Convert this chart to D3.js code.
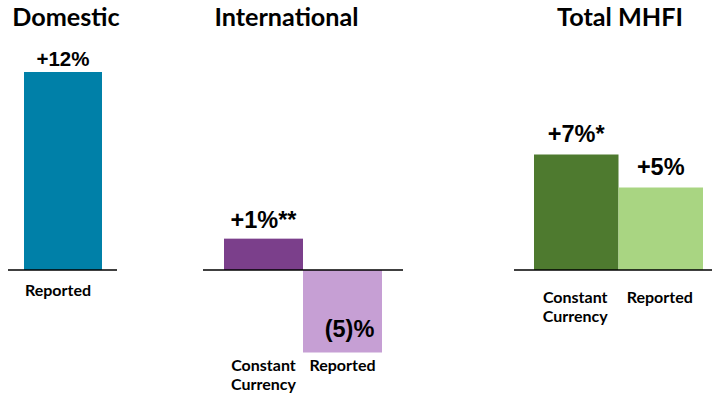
<!DOCTYPE html>
<html>
<head>
<meta charset="utf-8">
<script src="https://cdn.jsdelivr.net/npm/d3@7"></script>
<style>
  html, body { margin: 0; padding: 0; background: #fff; }
  svg { display: block; }
  .title { font-family: Lato, "Open Sans", sans-serif; font-weight: 700; font-size: 25.2px; fill: #000; }
  .cat { font-family: Lato, "Open Sans", sans-serif; font-weight: 700; font-size: 16px; fill: #000; }
  .val { font-family: "Liberation Sans", Arial, sans-serif; font-weight: 700; font-size: 23.5px; fill: #000; }
  .val.small { font-size: 20.5px; }
</style>
</head>
<body>
<svg id="chart" width="712" height="395"></svg>
<script>
const panelTitles = ["Domestic", "International", "Total MHFI"];

const domesticCategories = ["Reported"];
const domesticValues = [12];
const domesticLabels = ["+12%"];

const intlCategories = ["Constant Currency", "Reported"];
const intlValues = [1.9, -5];
const intlLabels = ["+1%**", "(5)%"];

const totalCategories = ["Constant Currency", "Reported"];
const totalValues = [7, 5];
const totalLabels = ["+7%*", "+5%"];

const domesticColors = ["#0080a8"];
const intlColors = ["#7b3f8b", "#c69fd4"];
const totalColors = ["#4e7a2f", "#a9d582"];

const panels = [
  { title: panelTitles[0], cats: domesticCategories, values: domesticValues, labels: domesticLabels, colors: domesticColors,
    bars: [24, 102], axis: [8, 117], titleX: 66, catY: 296, catShift: -5, valGap: 6, small: true },
  { title: panelTitles[1], cats: intlCategories, values: intlValues, labels: intlLabels, colors: intlColors,
    bars: [224, 382], axis: [203, 403], titleX: 286.5, catY: 371, catShift: 0, valGap: 11 },
  { title: panelTitles[2], cats: totalCategories, values: totalValues, labels: totalLabels, colors: totalColors,
    bars: [534, 703], axis: [514, 712], titleX: 620, catY: 303, catShift: -1, valGap: 13 },
];
const lineStep = 19;

const svg = d3.select("#chart");
const y = d3.scaleLinear().domain([-5, 12]).range([352.5, 72]);

for (const p of panels) {
  const g = svg.append("g");
  const x = d3.scaleBand().domain(p.cats).range(p.bars).paddingInner(0).paddingOuter(0);
  const mid = (c) => x(c) + x.bandwidth() / 2;
  const rows = p.cats.map((c, i) => ({ cat: c, value: p.values[i], label: p.labels[i], color: p.colors[i] }));

  g.append("text").attr("class", "title")
    .attr("x", p.titleX).attr("y", 26).attr("text-anchor", "middle").text(p.title);

  g.selectAll("rect").data(rows).join("rect")
    .attr("x", (d) => x(d.cat))
    .attr("width", x.bandwidth())
    .attr("y", (d) => y(Math.max(0, d.value)))
    .attr("height", (d) => Math.abs(y(d.value) - y(0)))
    .attr("fill", (d) => d.color);

  g.append("line")
    .attr("x1", p.axis[0]).attr("x2", p.axis[1])
    .attr("y1", y(0)).attr("y2", y(0))
    .attr("stroke", "#000").attr("stroke-width", 1.5);

  g.selectAll("text.val").data(rows).join("text")
    .attr("class", p.small ? "val small" : "val")
    .attr("x", (d) => mid(d.cat) + (d.value < 0 ? 7 : 0))
    .attr("y", (d) => d.value < 0 ? y(d.value) - 15.5 : y(d.value) - p.valGap)
    .attr("text-anchor", "middle")
    .text((d) => d.label);

  // category labels, one text per word ("Constant Currency" -> two lines)
  const lines = rows.flatMap((d) => d.cat.split(" ").map((w, i) => ({ w, i, x: mid(d.cat) + p.catShift })));
  g.selectAll("text.cat").data(lines).join("text").attr("class", "cat")
    .attr("x", (t) => t.x)
    .attr("y", (t) => p.catY + t.i * lineStep)
    .attr("text-anchor", "middle")
    .text((t) => t.w);
}
</script>
</body>
</html>
